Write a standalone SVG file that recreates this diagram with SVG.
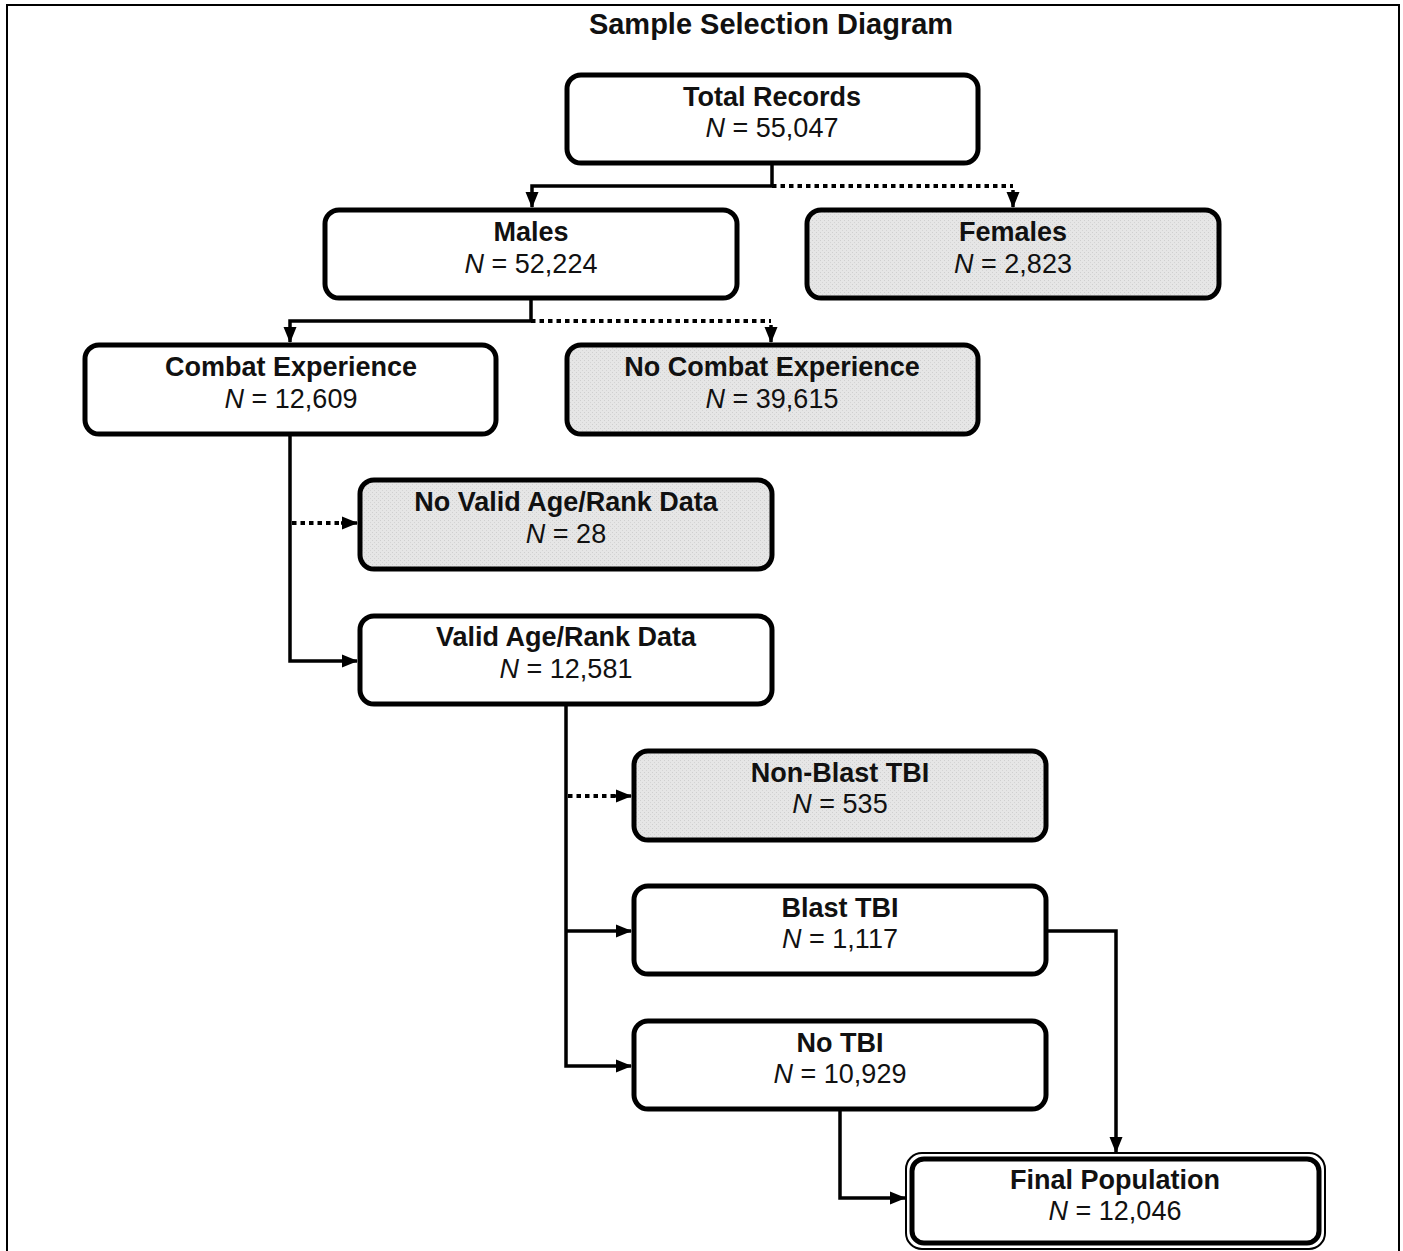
<svg xmlns="http://www.w3.org/2000/svg" width="1403" height="1251" viewBox="0 0 1403 1251">
<defs>
<marker id="ah" markerWidth="16" markerHeight="16" viewBox="0 0 16 16" refX="15" refY="8" orient="auto" markerUnits="userSpaceOnUse">
<path d="M0,1.5 L16,8 L0,14.5 Z" fill="#000"/>
</marker>
<pattern id="dots" width="4" height="4" patternUnits="userSpaceOnUse">
<rect width="4" height="4" fill="#e6e6e6"/>
<rect x="0" y="0" width="1" height="1" fill="#cfcfcf"/>
<rect x="2" y="2" width="1" height="1" fill="#d4d4d4"/>
</pattern>
</defs>
<style>
.box{fill:#fff;stroke:#000;stroke-width:5}
.ex{fill:url(#dots);stroke:#000;stroke-width:5}
.t{font-family:"Liberation Sans",Arial,sans-serif;font-size:27px;text-anchor:middle;fill:#111}
.b{font-weight:bold}
.ln{fill:none;stroke:#000;stroke-width:3.5}
.dt{fill:none;stroke:#000;stroke-width:4;stroke-dasharray:4.5 4}
</style>
<rect x="7" y="5" width="1392" height="1270" fill="#fff" stroke="#000" stroke-width="2"/>
<text class="t b" x="771" y="34" style="font-size:29px">Sample Selection Diagram</text>

<g id="connectors">
<path class="ln" d="M772,165 V186 H532 V207" marker-end="url(#ah)"/>
<path class="dt" d="M772,186 H1013"/>
<path class="ln" d="M1013,190 V207" marker-end="url(#ah)"/>
<path class="ln" d="M531,300 V321 H290 V342" marker-end="url(#ah)"/>
<path class="dt" d="M531,321 H771"/>
<path class="ln" d="M771,325 V342" marker-end="url(#ah)"/>
<path class="ln" d="M290,436 V661 H357" marker-end="url(#ah)"/>
<path class="dt" d="M292,523 H343"/>
<path class="ln" d="M341,523 H357" marker-end="url(#ah)"/>
<path class="ln" d="M566,706 V1066 H631" marker-end="url(#ah)"/>
<path class="ln" d="M566,931 H631" marker-end="url(#ah)"/>
<path class="dt" d="M568,796 H617"/>
<path class="ln" d="M615,796 H631" marker-end="url(#ah)"/>
<path class="ln" d="M1048,931 H1116 V1152" marker-end="url(#ah)"/>
<path class="ln" d="M840,1111 V1198 H905" marker-end="url(#ah)"/>
</g>

<g id="total">
<rect class="box" x="567" y="75" width="411" height="88" rx="14"/>
<text class="t b" x="772" y="106">Total Records</text>
<text class="t" x="772" y="137"><tspan font-style="italic">N</tspan> = 55,047</text>
</g>
<g id="males">
<rect class="box" x="325" y="210" width="412" height="88" rx="14"/>
<text class="t b" x="531" y="241">Males</text>
<text class="t" x="531" y="273"><tspan font-style="italic">N</tspan> = 52,224</text>
</g>
<g id="females">
<rect class="ex" x="807" y="210" width="412" height="88" rx="14"/>
<text class="t b" x="1013" y="241">Females</text>
<text class="t" x="1013" y="273"><tspan font-style="italic">N</tspan> = 2,823</text>
</g>
<g id="combat">
<rect class="box" x="85" y="345" width="411" height="89" rx="14"/>
<text class="t b" x="291" y="376">Combat Experience</text>
<text class="t" x="291" y="408"><tspan font-style="italic">N</tspan> = 12,609</text>
</g>
<g id="nocombat">
<rect class="ex" x="567" y="345" width="411" height="89" rx="14"/>
<text class="t b" x="772" y="376">No Combat Experience</text>
<text class="t" x="772" y="408"><tspan font-style="italic">N</tspan> = 39,615</text>
</g>
<g id="novalid">
<rect class="ex" x="360" y="480" width="412" height="89" rx="14"/>
<text class="t b" x="566" y="511">No Valid Age/Rank Data</text>
<text class="t" x="566" y="543"><tspan font-style="italic">N</tspan> = 28</text>
</g>
<g id="valid">
<rect class="box" x="360" y="616" width="412" height="88" rx="14"/>
<text class="t b" x="566" y="646">Valid Age/Rank Data</text>
<text class="t" x="566" y="678"><tspan font-style="italic">N</tspan> = 12,581</text>
</g>
<g id="nonblast">
<rect class="ex" x="634" y="751" width="412" height="89" rx="14"/>
<text class="t b" x="840" y="782">Non-Blast TBI</text>
<text class="t" x="840" y="813"><tspan font-style="italic">N</tspan> = 535</text>
</g>
<g id="blast">
<rect class="box" x="634" y="886" width="412" height="88" rx="14"/>
<text class="t b" x="840" y="917">Blast TBI</text>
<text class="t" x="840" y="948"><tspan font-style="italic">N</tspan> = 1,117</text>
</g>
<g id="notbi">
<rect class="box" x="634" y="1021" width="412" height="88" rx="14"/>
<text class="t b" x="840" y="1052">No TBI</text>
<text class="t" x="840" y="1083"><tspan font-style="italic">N</tspan> = 10,929</text>
</g>
<g id="final">
<rect x="906" y="1153" width="419" height="96" rx="16" fill="#fff" stroke="#000" stroke-width="2"/>
<rect class="box" x="912" y="1159" width="407" height="84" rx="12"/>
<text class="t b" x="1115" y="1189">Final Population</text>
<text class="t" x="1115" y="1220"><tspan font-style="italic">N</tspan> = 12,046</text>
</g>
</svg>
